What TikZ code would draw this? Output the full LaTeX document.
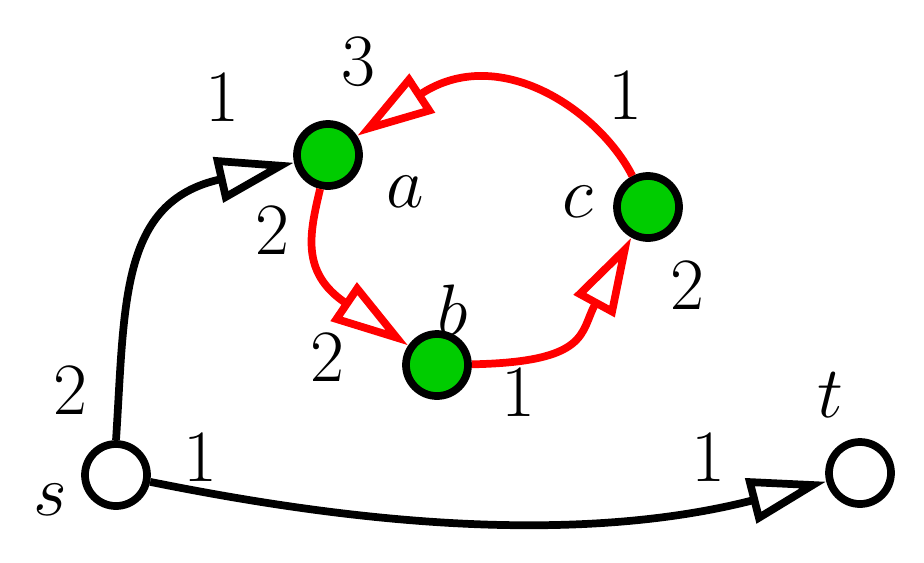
\documentclass[tikz,border=0pt]{standalone}
\usetikzlibrary{arrows.meta}
\begin{document}
\begin{tikzpicture}[x=1cm,y=1cm,
  vtx/.style={circle,draw=black,line width=2.2pt,minimum size=0.62cm,inner sep=0pt},
  gv/.style={vtx,fill=green!80!black},
  wv/.style={vtx,fill=white},
  edg/.style={line width=2.2pt,-{Triangle[open,length=0.78cm,width=0.45cm,line width=2.2pt]}},
  lbl/.style={font=\fontsize{21}{24}\selectfont}]
\useasboundingbox (0,0) rectangle (9.24,5.62);
\node[wv] (s) at (1.16,0.87) {};
\node[wv] (t) at (8.60,0.89) {};
\node[gv] (a) at (3.28,4.07) {};
\node[gv] (b) at (4.37,1.97) {};
\node[gv] (c) at (6.48,3.55) {};
\draw[edg,black] (s.north) .. controls (1.25,2.6) and (1.2,3.6) .. (a);
\draw[edg,black] (s) .. controls (3.0,0.5) and (5.5,0.1) .. (t);
\draw[edg,red] (a) .. controls (3.1,3.3) and (3.0,2.9) .. (b);
\draw[edg,red] (b) .. controls (5.9,2.0) and (5.8,2.3) .. (c);
\draw[edg,red] (c) .. controls (6.0,4.5) and (5.0,5.2) .. (a);
\node[lbl] at (2.22,4.65) {1};
\node[lbl] at (3.58,5.00) {3};
\node[lbl] at (2.72,3.32) {2};
\node[lbl] at (3.27,2.05) {2};
\node[lbl] at (5.18,1.70) {1};
\node[lbl] at (6.87,2.77) {2};
\node[lbl] at (6.25,4.67) {1};
\node[lbl] at (0.70,1.72) {2};
\node[lbl] at (2.00,1.05) {1};
\node[lbl] at (7.08,1.05) {1};
\node[lbl] at (4.05,3.70) {$a$};
\node[lbl] at (4.53,2.52) {$b$};
\node[lbl] at (5.78,3.60) {$c$};
\node[lbl] at (0.50,0.62) {$s$};
\node[lbl] at (8.30,1.67) {$t$};
\end{tikzpicture}
\end{document}
